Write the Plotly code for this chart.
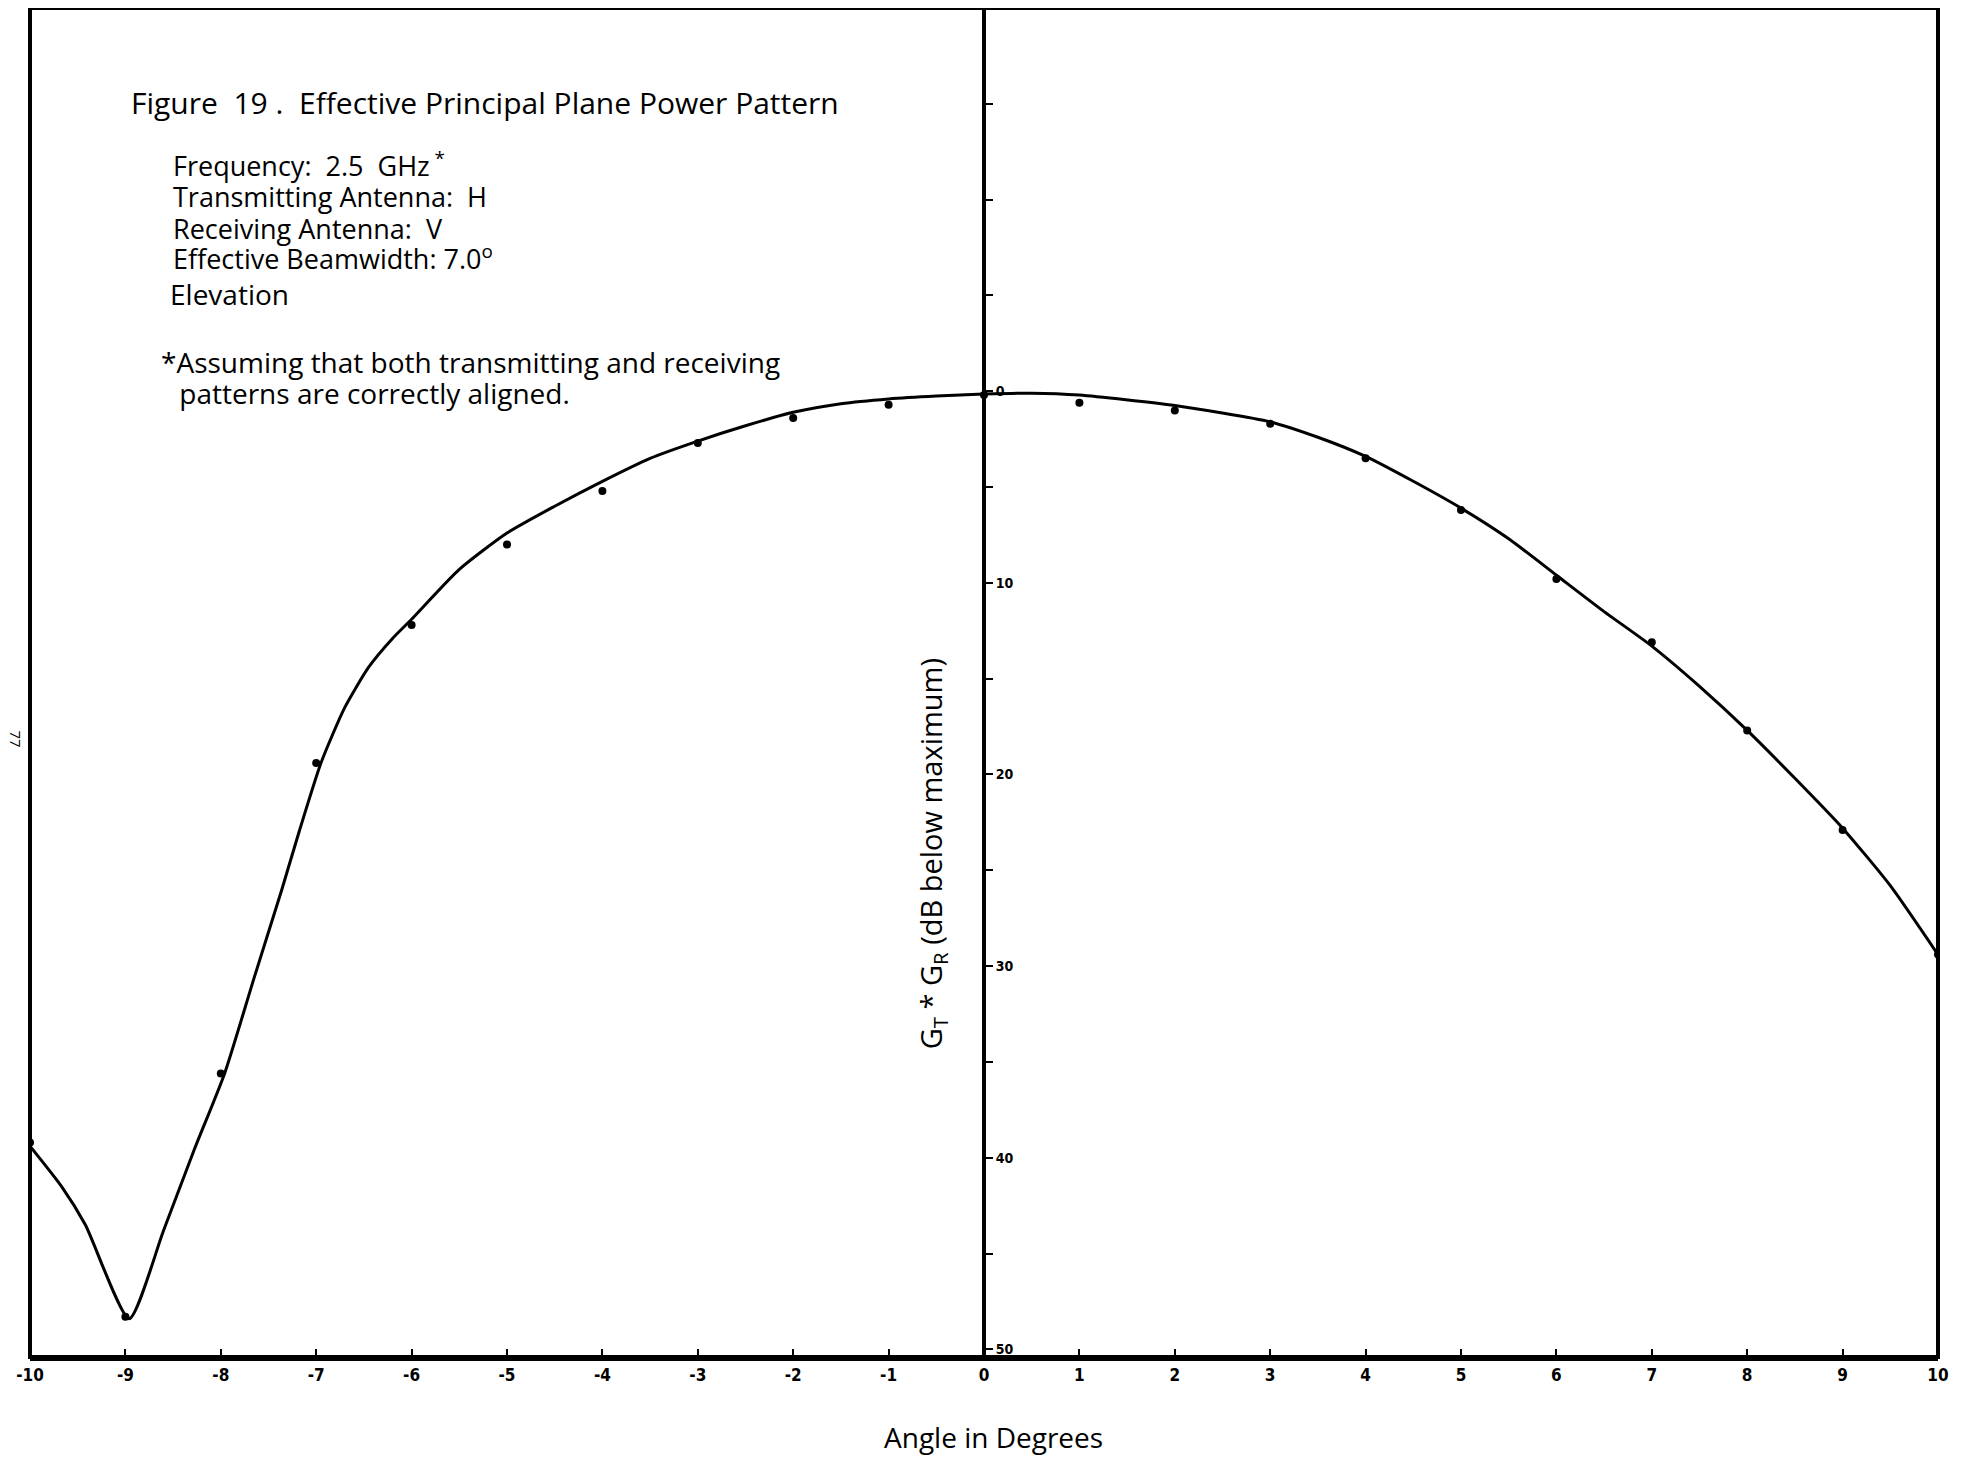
import plotly.graph_objects as go

# traced curve (angle in degrees, dB below maximum)
curve_angle = [-10.0, -9.67, -9.42, -8.96, -8.6, -8.28, -7.96, -7.65, -7.36, -7.18, -6.95,
               -6.7, -6.45, -6.2, -6.0, -5.5, -5.0, -4.5, -4.0, -3.5, -3.0, -2.5, -2.0,
               -1.5, -1.0, -0.5, 0.0, 0.5, 1.0, 2.0, 3.0, 3.5, 4.0, 4.5, 5.0, 5.5, 6.0,
               6.5, 7.0, 7.5, 8.0, 8.5, 9.0, 9.5, 10.0]
curve_db = [39.4, 41.5, 43.5, 48.4, 43.8, 39.6, 35.6, 30.6, 26.0, 23.0, 19.4,
            16.5, 14.4, 12.9, 11.9, 9.3, 7.4, 6.0, 4.7, 3.5, 2.6, 1.8, 1.1,
            0.65, 0.4, 0.25, 0.15, 0.1, 0.2, 0.75, 1.6, 2.4, 3.4, 4.7, 6.1, 7.7, 9.6,
            11.5, 13.3, 15.4, 17.7, 20.2, 22.8, 25.8, 29.4]

# measured points
dot_angle = [-10, -9, -8, -7, -6, -5, -4, -3, -2, -1, 0, 1, 2, 3, 4, 5, 6, 7, 8, 9, 10]
dot_db = [39.2, 48.3, 35.6, 19.4, 12.2, 8.0, 5.2, 2.7, 1.4, 0.7, 0.2, 0.6, 1.0, 1.7,
          3.5, 6.2, 9.8, 13.1, 17.7, 22.9, 29.4]

x_ticks = list(range(-10, 11))
x_labels = [str(v) for v in x_ticks]
y_ticks = [-15, -10, -5, 0, 5, 10, 15, 20, 25, 30, 35, 40, 45, 50]
y_labels = ["", "", "", "0", "", "10", "", "20", "", "30", "", "40", "", "50"]

info_lines = [
    "Figure  19 .  Effective Principal Plane Power Pattern",
    "Frequency:  2.5  GHz<sup> *</sup>",
    "Transmitting Antenna:  H",
    "Receiving Antenna:  V",
    "Effective Beamwidth: 7.0<sup>o</sup>",
    "Elevation",
    "*Assuming that both transmitting and receiving",
    " patterns are correctly aligned.",
]
info_pos = [(0.0524, 0.9296), (0.0744, 0.8843), (0.0744, 0.8599), (0.0744, 0.8369),
            (0.0744, 0.8147), (0.0729, 0.7880), (0.0681, 0.7376), (0.0740, 0.7146)]
info_size = [30, 27, 27, 27, 27, 28, 28, 28]

txt_font = "'Open Sans', 'Noto Sans', sans-serif"
tick_font = "'Liberation Sans Narrow', 'DejaVu Sans Condensed', sans-serif"

fig = go.Figure()
fig.add_trace(go.Scatter(
    x=curve_angle, y=curve_db, mode="lines",
    line=dict(color="black", width=3, shape="spline", smoothing=0.6),
    hoverinfo="skip"))
fig.add_trace(go.Scatter(
    x=dot_angle, y=dot_db, mode="markers",
    marker=dict(color="black", size=8)))

for t, (px, py), sz in zip(info_lines, info_pos, info_size):
    fig.add_annotation(text=t, x=px, y=py, xref="paper", yref="paper",
                       xanchor="left", yanchor="middle", showarrow=False, borderpad=0,
                       font=dict(family=txt_font, size=sz, color="black"))

fig.add_annotation(text="G<sub>T</sub> * G<sub>R</sub> (dB below maximum)",
                   x=0.473, y=0.373, xref="paper", yref="paper", textangle=-90,
                   xanchor="center", yanchor="middle",
                   showarrow=False, font=dict(family=txt_font, size=29, color="black"))
fig.add_annotation(text="Angle in Degrees", x=0.505, y=-0.0593, xref="paper", yref="paper",
                   xanchor="center", yanchor="middle",
                   showarrow=False, font=dict(family=txt_font, size=28, color="black"))
fig.add_annotation(text="77", x=-0.0075, y=0.458, xref="paper", yref="paper",
                   xanchor="center", yanchor="middle",
                   textangle=90, showarrow=False,
                   font=dict(family=txt_font, size=15, color="black"))

# page frame
fig.add_shape(type="rect", xref="paper", yref="paper", x0=0, x1=1, y0=0, y1=1,
              line=dict(color="black", width=4))

fig.update_layout(
    width=1957, height=1450,
    margin=dict(l=22, r=27, t=0, b=101),
    paper_bgcolor="white", plot_bgcolor="white",
    showlegend=False,
    xaxis=dict(range=[-10, 10], tickvals=x_ticks, ticktext=x_labels,
               ticks="inside", ticklen=8, tickwidth=2, tickcolor="black",
               showline=True, linewidth=4, linecolor="black",
               showgrid=False, zeroline=False,
               tickfont=dict(family=tick_font, size=17, color="black", weight="bold")),
    yaxis=dict(range=[50.4, -20.0], tickvals=y_ticks, ticktext=y_labels,
               anchor="free", position=0.5, side="right",
               ticks="outside", ticklen=7, tickwidth=2, tickcolor="black",
               showline=True, linewidth=4, linecolor="black",
               showgrid=False, zeroline=False,
               tickfont=dict(family=tick_font, size=14, color="black", weight="bold")),
)

fig.write_html("out.html")
